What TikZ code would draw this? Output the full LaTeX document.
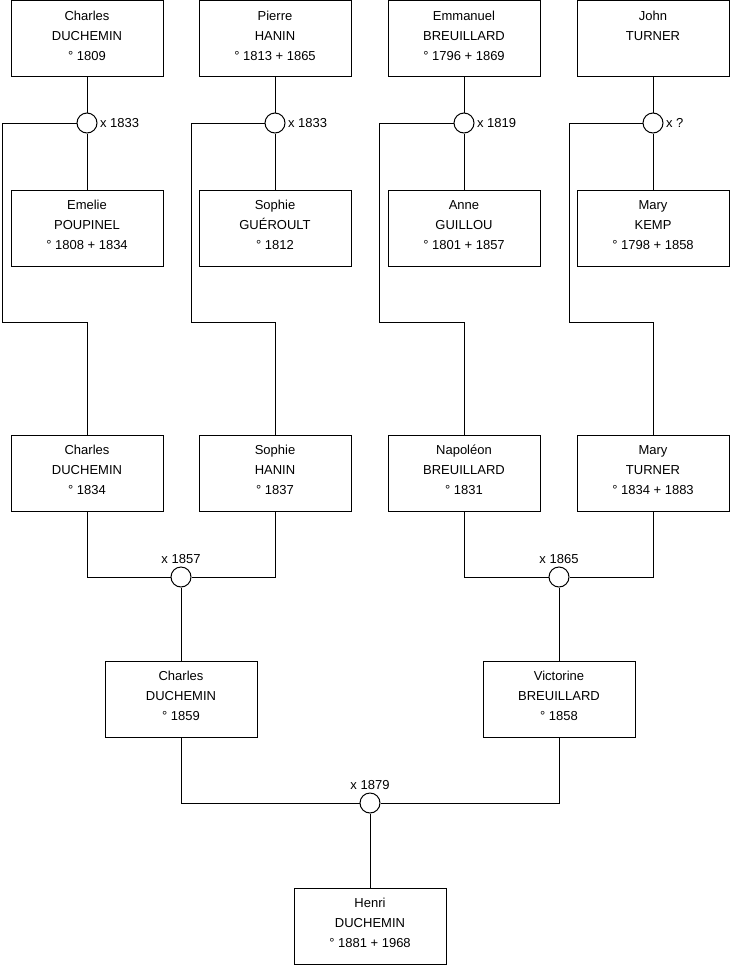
\documentclass[tikz,border=0pt]{standalone}
\usepackage{fontspec}
\setmainfont{Liberation Sans}
\usetikzlibrary{math}

\begin{document}
\begin{tikzpicture}[x=1pt,y=-1pt,line width=1pt,
  font=\fontsize{13}{20}\selectfont,
  person/.style={draw, rectangle, minimum width=152pt, minimum height=76pt,
    inner sep=0pt, align=center, text depth=6pt},
  wed/.style={draw, circle, minimum size=20pt, inner sep=0pt, fill=white}]
\tikzmath{
\ya=38.5; \yb=228; \yc=473; \yd=699; \ye=926;
\ja=123; \jb=322; \jc=577; \jd=803;
}
 \useasboundingbox (0,0) rectangle (740,975);

 %top row:
 \node[person] (charlesF) at (87,\ya) {Charles\\DUCHEMIN\\° 1809};
 \node[person] (pierre) at (275,\ya) {Pierre\\HANIN\\° 1813 + 1865};
 \node[person] (emmanuel) at (464,\ya) {Emmanuel\\BREUILLARD\\° 1796 + 1869};
 \node[person] (john) at (653,\ya) {John\\TURNER\\\strut};

 \node[wed, label={[inner sep=2pt]right:x 1833}] (wA) at (87,\ja) {};
 \node[wed, label={[inner sep=2pt]right:x 1833}] (wB) at (275,\ja) {};
 \node[wed, label={[inner sep=2pt]right:x 1819}] (wC) at (464,\ja) {};
 \node[wed, label={[inner sep=2pt]right:x ?}] (wD) at (653,\ja) {};

 \node[person] (emelie) at (87,\yb) {Emelie\\POUPINEL\\° 1808 + 1834};
 \node[person] (sophieG) at (275,\yb) {Sophie\\GUÉROULT\\° 1812};
 \node[person] (anne) at (464,\yb) {Anne\\GUILLOU\\° 1801 + 1857};
 \node[person] (maryK) at (653,\yb) {Mary\\KEMP\\° 1798 + 1858};

 %children:
 \node[person] (charlesS) at (87,\yc) {Charles\\DUCHEMIN\\° 1834};
 \node[person] (sophieH) at (275,\yc) {Sophie\\HANIN\\° 1837};
 \node[person] (napoleon) at (464,\yc) {Napoléon\\BREUILLARD\\° 1831};
 \node[person] (maryT) at (653,\yc) {Mary\\TURNER\\° 1834 + 1883};

 \node[wed, label={[inner sep=2pt]above:x 1857}] (wE) at (181,\jc) {};
 \node[wed, label={[inner sep=2pt]above:x 1865}] (wF) at (559,\jc) {};

 \node[person] (charlesG) at (181,\yd) {Charles\\DUCHEMIN\\° 1859};
 \node[person] (victorine) at (559,\yd) {Victorine\\BREUILLARD\\° 1858};

 \node[wed, label={[inner sep=2pt]above:x 1879}] (wG) at (370,\jd) {};

 \node[person] (henri) at (370,\ye) {Henri\\DUCHEMIN\\° 1881 + 1968};

 \coordinate (kA) at (2,\jb);
 \coordinate (kB) at (191,\jb);
 \coordinate (kC) at (379,\jb);
 \coordinate (kD) at (569,\jb);

 %couples and children:
 \draw (charlesF) -- (wA) -- (emelie);
 \draw (pierre) -- (wB) -- (sophieG);
 \draw (emmanuel) -- (wC) -- (anne);
 \draw (john) -- (wD) -- (maryK);

 \draw (wA.west) -| (kA) -| (charlesS.north);
 \draw (wB.west) -| (kB) -| (sophieH.north);
 \draw (wC.west) -| (kC) -| (napoleon.north);
 \draw (wD.west) -| (kD) -| (maryT.north);

 \draw (charlesS.south) |- (wE.west);
 \draw (sophieH.south) |- (wE.east);
 \draw (napoleon.south) |- (wF.west);
 \draw (maryT.south) |- (wF.east);
 \draw (wE) -- (charlesG);
 \draw (wF) -- (victorine);

 \draw (charlesG.south) |- (wG.west);
 \draw (victorine.south) |- (wG.east);
 \draw (wG) -- (henri);
\end{tikzpicture}
\end{document}
